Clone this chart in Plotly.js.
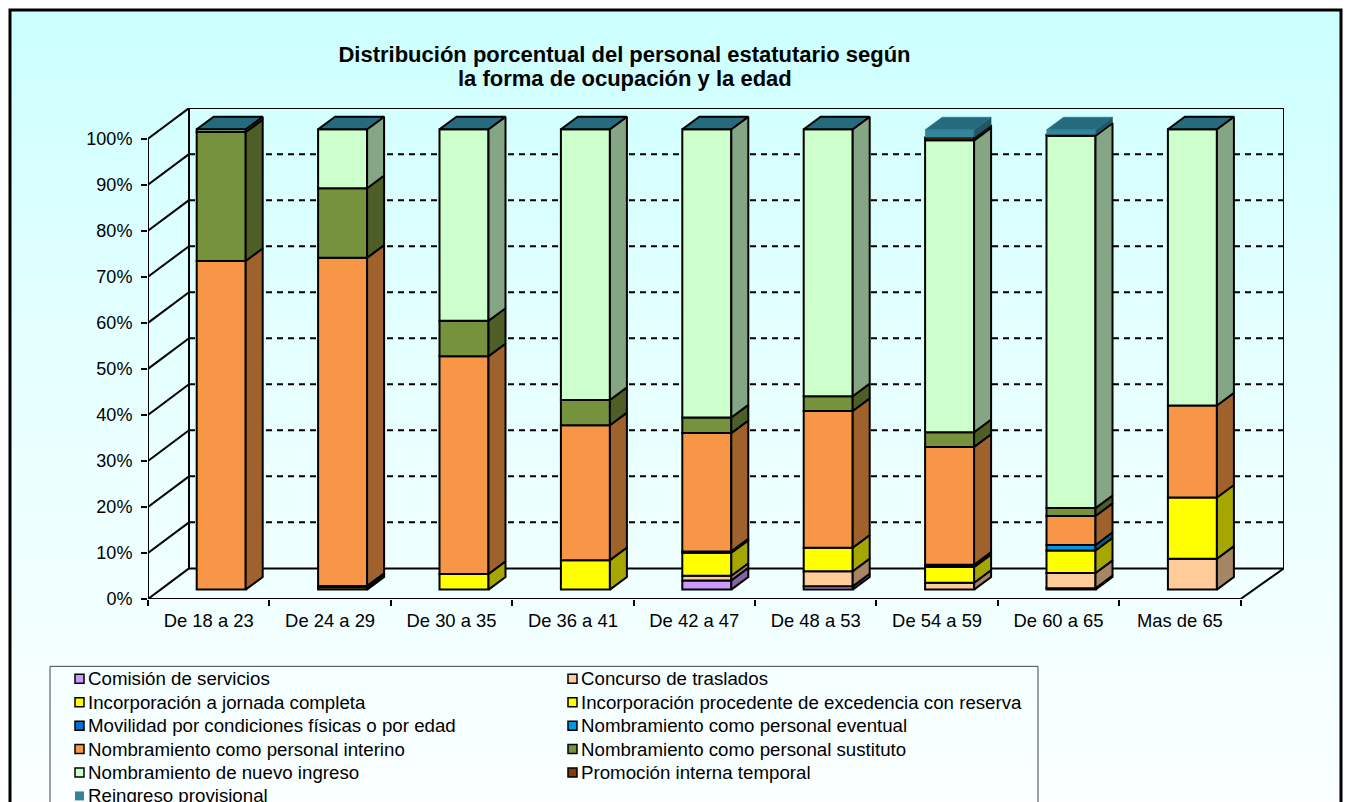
<!DOCTYPE html>
<html><head><meta charset="utf-8">
<script src="https://cdn.plot.ly/plotly-3.0.1.min.js"></script>
<style>
html,body{margin:0;padding:0;background:#fff;overflow:hidden;width:1351px;height:802px}
#bg{position:absolute;left:10px;top:10px;width:1331px;height:792px;background:linear-gradient(180deg,#CCFFFF 0%,#E6FFFF 45%,#FBFFFF 100%)}
#chart{position:absolute;left:0;top:0;width:1351px;height:802px}
</style></head><body>
<div id="bg"></div><div id="chart"></div>
<script>
const categories=["De 18 a 23","De 24 a 29","De 30 a 35","De 36 a 41","De 42 a 47","De 48 a 53","De 54 a 59","De 60 a 65","Mas de 65"];
const comision =[0,0,0,0,2.0,0.7,0,0.3,0];
const concurso =[0,0,0,0,1.0,3.3,1.5,3.3,6.7];
const jornada  =[0,0,0,0,0,0,0,0,0];
const excedencia=[0,0.5,3.4,6.4,5.0,5.1,3.4,4.9,13.3];
const movilidad=[0,0.3,0,0,0.3,0,0.5,0,0];
const eventual =[0,0,0,0,0,0,0,1.2,0];
const interino =[71.4,71.3,47.3,29.3,25.7,29.7,25.6,6.3,20.0];
const sustituto=[28.0,15.1,7.7,5.5,3.4,3.2,3.2,1.7,0];
const nuevo    =[0.6,12.8,41.6,58.8,62.6,58.0,63.4,80.9,60.0];
const promocion=[0,0,0,0,0,0,0.6,0.2,0];
const reingreso=[0,0,0,0,0,0,1.7,1.1,0];

const titleLines=["Distribución porcentual del personal estatutario según","la forma de ocupación y la edad"];
const seriesNames=["Comisión de servicios","Concurso de traslados","Incorporación a jornada completa","Incorporación procedente de excedencia con reserva","Movilidad por condiciones físicas o por edad","Nombramiento como personal eventual","Nombramiento como personal interino","Nombramiento como personal sustituto","Nombramiento de nuevo ingreso","Promoción interna temporal","Reingreso provisional"];
const seriesValues=[comision,concurso,jornada,excedencia,movilidad,eventual,interino,sustituto,nuevo,promocion,reingreso];
const seriesFront=["#CC99FF","#FFCC99","#FFFF00","#FFFF00","#0070D0","#0099DD","#F79646","#76923C","#CCFFCC","#843C0C","#31859C"];
const seriesSide =["#8563A6","#A68563","#A6A600","#A6A600","#004A88","#006390","#A0622D","#4D5F27","#85A685","#562708","#205665"];
const topFace="#256A7D";
const yTicks=[0,10,20,30,40,50,60,70,80,90,100];

const PL=148,PR=1284,PT=108,PB=598.7,CATW=121.4,PXV=4.6;
const W=1351,H=802;
const wallDX=41/CATW, wallDY=30.6/PXV;
const barDX=12.5/CATW, barDY=9.4/PXV, barW=49/CATW, sideDX=17/CATW, sideDY=12.6/PXV;
const xRange=[0,(PR-PL)/CATW], yRange=[0,(PB-PT)/PXV];
const px=x=>(x-PL)/(PR-PL), py=y=>(PB-y)/(PB-PT);

const traces=[], cum=categories.map(()=>0);
const sideTraces=[];
seriesValues.forEach((vals,s)=>{
  const bases=cum.slice();
  const noOutline=s===seriesValues.length-1;
  traces.push({type:"bar",name:seriesNames[s],x:categories.map((_,i)=>i+0.5+barDX),
    y:vals.map(v=>v>0?v:null),base:bases.map(b=>b+barDY),width:barW,
    marker:{color:seriesFront[s],line:{color:noOutline?seriesFront[s]:"#000",width:noOutline?0:2}},
    hoverinfo:"name+y",showlegend:false});
  const sx=[],sy=[];
  vals.forEach((v,i)=>{
    if(v>0){
      const xr=i+0.5+barDX+barW/2, b=bases[i]+barDY, t=b+v;
      sx.push(xr,xr+sideDX,xr+sideDX,xr,xr,null);
      sy.push(b,b+sideDY,t+sideDY,t,b,null);
    }
    cum[i]+=v;
  });
  sideTraces.push({type:"scatter",mode:"lines",x:sx,y:sy,fill:"toself",fillcolor:seriesSide[s],
    line:{color:noOutline?seriesSide[s]:"#000",width:noOutline?0.5:2},hoverinfo:"skip",showlegend:false});
});
const addTop=(idx,color)=>{
  const tx=[],ty=[];
  idx.forEach(i=>{
    const xl=i+0.5+barDX-barW/2,xr=xl+barW,t=cum[i]+barDY;
    tx.push(xl,xr,xr+sideDX,xl+sideDX,xl,null);
    ty.push(t,t,t+sideDY,t+sideDY,t,null);
  });
  return {type:"scatter",mode:"lines",x:tx,y:ty,fill:"toself",fillcolor:topFace,
    line:{color:color,width:color==="#000"?2:0.5},hoverinfo:"skip",showlegend:false};
};
const idxAll=categories.map((_,i)=>i);
const topTraces=[addTop(idxAll.filter(i=>reingreso[i]===0),"#000"),addTop(idxAll.filter(i=>reingreso[i]>0),topFace)];

const shapes=[];
const line=(x0,y0,x1,y1,extra)=>shapes.push(Object.assign({type:"line",xref:"x",yref:"y",x0,y0,x1,y1,layer:"below",line:{color:"#000",width:2}},extra||{}));
const maxX=categories.length;
yTicks.forEach(v=>{
  if(v>0&&v<100) line(wallDX,v+wallDY,xRange[1],v+wallDY,{line:{color:"#000",width:2,dash:"6px,5px"}});
  line(0,v,wallDX,v+wallDY);
});
line(0,0,0,100);
line(wallDX,wallDY,wallDX,100+wallDY);
line(wallDX,100+wallDY,xRange[1],100+wallDY);
line(xRange[1],wallDY,xRange[1],100+wallDY);
line(wallDX,wallDY,xRange[1],wallDY);
line(0,0,maxX,0);
line(maxX,0,xRange[1],wallDY);

shapes.push({type:"rect",xref:"paper",yref:"paper",x0:px(10),x1:px(1341),y0:py(10),y1:py(900),line:{color:"#000",width:3},layer:"above"});
shapes.push({type:"rect",xref:"paper",yref:"paper",x0:px(50),x1:px(1038),y0:py(666),y1:py(900),line:{color:"#444",width:1},layer:"above"});

const annotations=[];
const colX=[75,568], rowY0=678.5, rowH=23.4, sw=9;
seriesNames.forEach((n,s)=>{
  const col=s%2,row=Math.floor(s/2),cy=rowY0+row*rowH,cx=colX[col];
  const last=s===seriesNames.length-1;
  shapes.push({type:"rect",xref:"paper",yref:"paper",x0:px(cx),x1:px(cx+sw),y0:py(cy+sw/2),y1:py(cy-sw/2),
    fillcolor:seriesFront[s],line:{color:last?seriesFront[s]:"#000",width:last?0:1.5},layer:"above"});
  annotations.push({xref:"paper",yref:"paper",x:px(cx+12.5),y:py(cy),xanchor:"left",yanchor:"middle",showarrow:false,
    text:n,font:{family:"Liberation Sans",size:18.7,color:"#000"},borderpad:0,borderwidth:0});
});
annotations.push({xref:"paper",yref:"paper",x:px(624.5),y:py(79),xanchor:"center",yanchor:"middle",showarrow:false,
  text:titleLines[1],font:{family:"Liberation Sans",size:22,color:"#000",weight:"bold"},borderpad:0,borderwidth:0});

const layout={
  width:W,height:H,
  margin:{l:PL,r:W-PR,t:PT,b:H-PB,pad:0},
  paper_bgcolor:"rgba(0,0,0,0)",plot_bgcolor:"rgba(0,0,0,0)",
  showlegend:false,barmode:"overlay",
  font:{family:"Liberation Sans",size:18,color:"#000"},
  title:{text:titleLines[0],
    font:{family:"Liberation Sans",size:22,color:"#000",weight:"bold"},
    x:624.5/W,xref:"container",xanchor:"center",y:1-54/H,yref:"container",yanchor:"middle"},
  xaxis:{range:xRange,showgrid:false,zeroline:false,showline:false,tickmode:"array",
    tickvals:categories.map((_,i)=>i+0.5),ticktext:categories,ticks:"outside",ticklen:0,tickfont:{size:18.4},
    ticklabelstandoff:5,
    minor:{tickmode:"array",tickvals:categories.concat([""]).map((_,i)=>i),ticks:"outside",ticklen:6,tickwidth:2,tickcolor:"#000",showgrid:false}},
  yaxis:{range:yRange,showgrid:false,zeroline:false,showline:false,tickmode:"array",tickvals:yTicks,
    ticktext:yTicks.map(v=>v+"%"),ticks:"outside",ticklen:6,tickwidth:2,tickcolor:"#000",tickfont:{size:18},ticklabelstandoff:5},
  shapes,annotations
};
Plotly.newPlot("chart",traces.concat(sideTraces,topTraces),layout,{displayModeBar:false,responsive:false});
</script></body></html>
